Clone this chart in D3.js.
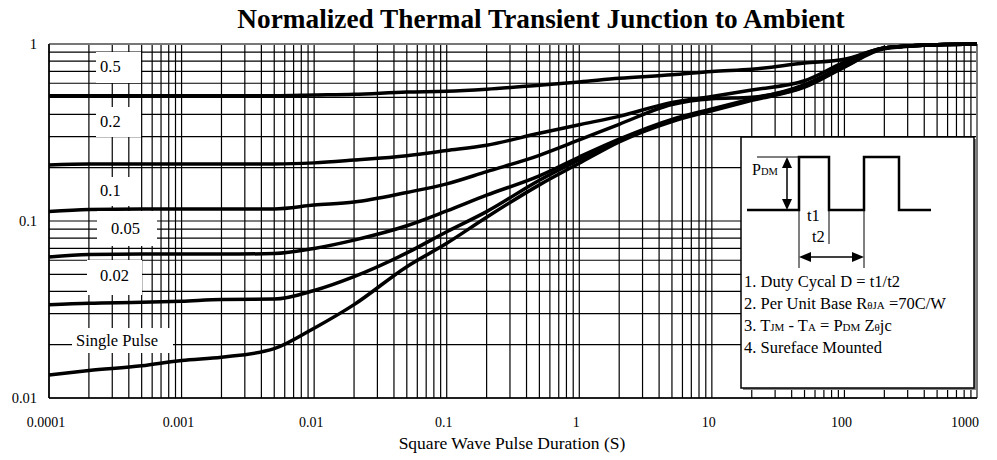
<!DOCTYPE html>
<html><head><meta charset="utf-8">
<script src="https://cdn.jsdelivr.net/npm/d3@7"></script>
<style>
html,body{margin:0;padding:0;background:#fff;}
svg{display:block;}
text{font-family:"Liberation Serif","Times New Roman",serif;fill:#000;}
</style></head>
<body>
<svg id="chart" width="997" height="460"></svg>
<script>
// ---- data ----
const pulseDuration = [1e-4,2e-4,5e-4,1e-3,2e-3,5e-3,1e-2,2e-2,5e-2,0.1,0.2,0.5,1,2,5,10,20,50,100,200,500,1000];
const dutyLabels = ["0.5","0.2","0.1","0.05","0.02","Single Pulse"];
const d05   = [0.51,0.51,0.51,0.51,0.51,0.51,0.515,0.52,0.535,0.54,0.555,0.585,0.61,0.64,0.67,0.70,0.72,0.78,0.82,0.95,0.99,1.0];
const d02   = [0.207,0.21,0.21,0.21,0.21,0.21,0.213,0.221,0.234,0.25,0.268,0.313,0.35,0.39,0.468,0.505,0.55,0.62,0.79,0.95,0.99,1.0];
const d01   = [0.113,0.116,0.117,0.117,0.117,0.117,0.123,0.128,0.145,0.162,0.19,0.235,0.287,0.352,0.455,0.49,0.50,0.59,0.76,0.95,0.99,1.0];
const d005  = [0.0626,0.0647,0.065,0.065,0.065,0.0655,0.070,0.078,0.094,0.114,0.14,0.18,0.23,0.29,0.375,0.43,0.49,0.58,0.75,0.95,0.99,1.0];
const d002  = [0.0336,0.0343,0.0347,0.0352,0.036,0.0362,0.0405,0.0485,0.066,0.087,0.113,0.17,0.222,0.285,0.37,0.425,0.485,0.575,0.745,0.95,0.99,1.0];
const dSingle = [0.0135,0.0143,0.0152,0.0163,0.017,0.019,0.0248,0.0337,0.0552,0.0748,0.105,0.16,0.212,0.28,0.365,0.42,0.48,0.57,0.74,0.94,0.99,1.0];
const xTickValues = [1e-4,1e-3,1e-2,1e-1,1,10,100,1000];
const xTickLabels = ["0.0001","0.001","0.01","0.1","1","10","100","1000"];
const yTickValues = [0.01,0.1,1];
const yTickLabels = ["0.01","0.1","1"];
const titleText = "Normalized Thermal Transient Junction to Ambient";
const xTitle = "Square Wave Pulse Duration (S)";
const notes = ["1. Duty Cycal D = t1/t2","2. Per Unit Base R","3. T","4. Sureface Mounted"];

const series = [d05,d02,d01,d005,d002,dSingle];

// ---- layout ----
const svg = d3.select("#chart");
const L=49, R=977, T=44, B=398;
const x = d3.scaleLog().domain([1e-4,1000]).range([L,R]);
const y = d3.scaleLog().domain([0.01,1]).range([B,T]);

// title
svg.append("text").attr("x",541).attr("y",28).attr("text-anchor","middle")
  .attr("font-size",27.3).attr("font-weight","bold").text(titleText);

// grid
const grid = svg.append("g");
grid.selectAll(".vg").data(x.ticks()).enter().append("line")
  .attr("x1",d=>x(d)).attr("x2",d=>x(d)).attr("y1",T).attr("y2",B)
  .attr("stroke","#000").attr("stroke-width",1.2);
grid.selectAll(".hg").data(y.ticks()).enter().append("line")
  .attr("y1",d=>y(d)).attr("y2",d=>y(d)).attr("x1",L).attr("x2",R)
  .attr("stroke","#000").attr("stroke-width",1.2);
// frame
svg.append("line").attr("x1",L).attr("x2",R).attr("y1",T).attr("y2",T).attr("stroke","#777").attr("stroke-width",2);
svg.append("line").attr("x1",R).attr("x2",R).attr("y1",T).attr("y2",B).attr("stroke","#777").attr("stroke-width",2);
svg.append("line").attr("x1",L).attr("x2",L).attr("y1",T).attr("y2",B).attr("stroke","#000").attr("stroke-width",1.5);
svg.append("line").attr("x1",L).attr("x2",R).attr("y1",B).attr("y2",B).attr("stroke","#000").attr("stroke-width",1.5);

// curves
const line = d3.line().x((d,i)=>x(pulseDuration[i])).y(d=>y(d)).curve(d3.curveMonotoneX);
svg.append("g").selectAll("path").data(series).enter().append("path")
  .attr("d",line).attr("fill","none").attr("stroke","#000").attr("stroke-width",3.5)
  .attr("stroke-linejoin","round");

// label boxes
const boxes = [
  {x:96,y:52,w:45,h:31,tx:100,ty:72},
  {x:96,y:107,w:45,h:30,tx:100,ty:127},
  {x:96,y:177,w:45,h:29,tx:100,ty:196},
  {x:97,y:211,w:60,h:35,tx:111,ty:234},
  {x:87,y:260,w:55,h:35,tx:100,ty:281},
  {x:72,y:328,w:101,h:25,tx:76,ty:346}
];
const lg = svg.append("g");
boxes.forEach((b,i)=>{
  lg.append("rect").attr("x",b.x).attr("y",b.y).attr("width",b.w).attr("height",b.h).attr("fill","#fff");
  lg.append("text").attr("x",b.tx).attr("y",b.ty).attr("font-size",16.5).text(dutyLabels[i]);
});

// axes labels
svg.append("g").selectAll("text").data(xTickValues).enter().append("text")
  .attr("x",(d,i)=> i===xTickValues.length-1 ? x(d)+2 : x(d)-3)
  .attr("y",427).attr("font-size",14)
  .attr("text-anchor",(d,i)=> i===xTickValues.length-1 ? "end" : "middle")
  .text((d,i)=>xTickLabels[i]);
svg.append("g").selectAll("text").data(yTickValues).enter().append("text")
  .attr("x",37).attr("y",d=>y(d)+5).attr("font-size",14.5).attr("text-anchor","end")
  .text((d,i)=>yTickLabels[i]);
svg.append("text").attr("x",512).attr("y",449).attr("text-anchor","middle").attr("font-size",17.5).text(xTitle);

// inset
const ix=741, iy=137, iw=233, ih=251;
svg.append("rect").attr("x",ix+2).attr("y",iy+2).attr("width",iw).attr("height",ih).attr("fill","#888");
svg.append("rect").attr("x",ix).attr("y",iy).attr("width",iw).attr("height",ih).attr("fill","#fff").attr("stroke","#000").attr("stroke-width",1.5);
const base=210, high=157;
const wave = [[747,base],[799,base],[799,high],[829,high],[829,base],[864,base],[864,high],[899,high],[899,base],[931,base]];
svg.append("path").attr("d",d3.line()(wave)).attr("fill","none").attr("stroke","#000").attr("stroke-width",2.5);
svg.append("line").attr("x1",757).attr("x2",799).attr("y1",high).attr("y2",high).attr("stroke","#000").attr("stroke-width",1.2);
// vertical arrow
svg.append("line").attr("x1",787).attr("x2",787).attr("y1",high+6).attr("y2",base-6).attr("stroke","#000").attr("stroke-width",1.5);
svg.append("path").attr("d",`M787,${high} L782,${high+11} L792,${high+11} Z`).attr("fill","#000");
svg.append("path").attr("d",`M787,${base} L782,${base-11} L792,${base-11} Z`).attr("fill","#000");
// thin guide lines
svg.append("line").attr("x1",799).attr("x2",799).attr("y1",base).attr("y2",268).attr("stroke","#000").attr("stroke-width",1);
svg.append("line").attr("x1",864).attr("x2",864).attr("y1",base).attr("y2",268).attr("stroke","#000").attr("stroke-width",1);
svg.append("line").attr("x1",829).attr("x2",829).attr("y1",base).attr("y2",244).attr("stroke","#000").attr("stroke-width",1);
// horizontal arrow
svg.append("line").attr("x1",806).attr("x2",857).attr("y1",257).attr("y2",257).attr("stroke","#000").attr("stroke-width",1.5);
svg.append("path").attr("d","M799,257 L811,252 L811,262 Z").attr("fill","#000");
svg.append("path").attr("d","M864,257 L852,252 L852,262 Z").attr("fill","#000");
// texts
const pdm = svg.append("text").attr("x",752).attr("y",175).attr("font-size",16);
pdm.append("tspan").text("P"); pdm.append("tspan").attr("font-size",10.5).text("DM");
svg.append("text").attr("x",807).attr("y",221).attr("font-size",16.5).text("t1");
svg.append("text").attr("x",812).attr("y",242).attr("font-size",16.5).text("t2");

const fs=16.5, fsm=11;
svg.append("text").attr("x",744).attr("y",287).attr("font-size",fs).text(notes[0]);
const n2 = svg.append("text").attr("x",744).attr("y",309).attr("font-size",fs);
n2.append("tspan").text(notes[1]); n2.append("tspan").attr("font-size",fsm).text("θJA"); n2.append("tspan").text(" =70C/W");
const n3 = svg.append("text").attr("x",744).attr("y",331).attr("font-size",fs);
n3.append("tspan").text(notes[2]); n3.append("tspan").attr("font-size",fsm).text("JM");
n3.append("tspan").text(" - T"); n3.append("tspan").attr("font-size",fsm).text("A");
n3.append("tspan").text(" = P"); n3.append("tspan").attr("font-size",fsm).text("DM");
n3.append("tspan").text(" Z"); n3.append("tspan").attr("font-size",fsm).text("θ");
n3.append("tspan").text("jc");
svg.append("text").attr("x",744).attr("y",353).attr("font-size",fs).text(notes[3]);
</script>
</body></html>
